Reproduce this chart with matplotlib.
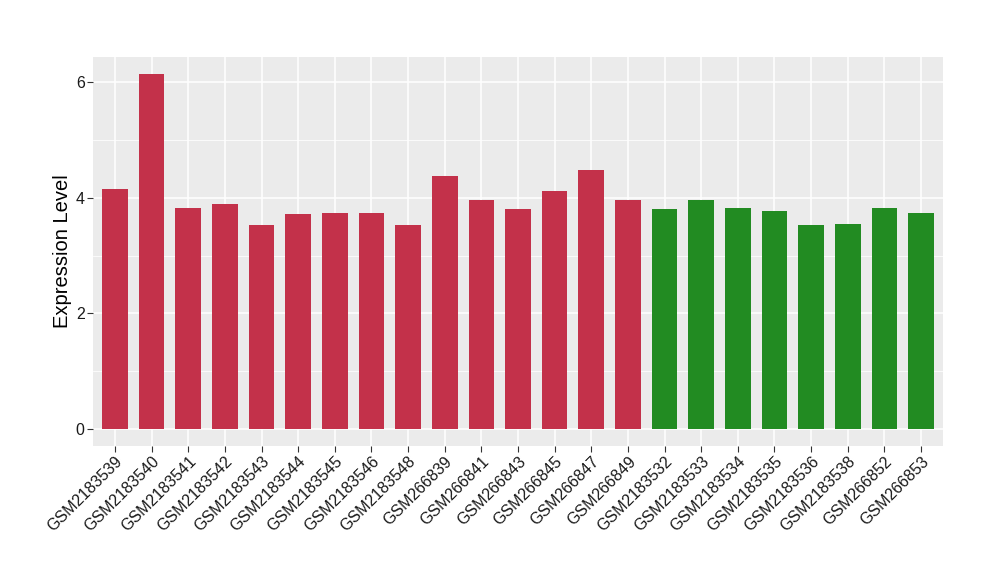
import matplotlib
matplotlib.use("Agg")
import matplotlib.pyplot as plt
from matplotlib.ticker import MultipleLocator

samples = ["GSM2183539", "GSM2183540", "GSM2183541", "GSM2183542", "GSM2183543",
           "GSM2183544", "GSM2183545", "GSM2183546", "GSM2183548", "GSM266839",
           "GSM266841", "GSM266843", "GSM266845", "GSM266847", "GSM266849",
           "GSM2183532", "GSM2183533", "GSM2183534", "GSM2183535", "GSM2183536",
           "GSM2183538", "GSM266852", "GSM266853"]
values = [4.15, 6.14, 3.82, 3.89, 3.53, 3.72, 3.74, 3.74, 3.53, 4.38,
          3.96, 3.80, 4.12, 4.48, 3.96,
          3.80, 3.96, 3.82, 3.77, 3.53, 3.54, 3.82, 3.74]
groups = ["A"] * 15 + ["B"] * 8
group_colors = {"A": "#C3314A", "B": "#228B22"}

plt.rcParams['font.family'] = ['Liberation Sans', 'DejaVu Sans']

fig = plt.figure(figsize=(10, 5.8), dpi=100)
ax = fig.add_axes([0.093, 0.2316, 0.850, 0.670])
ax.set_facecolor("#EBEBEB")

x = list(range(len(samples)))
ax.bar(x, values, width=0.7, color=[group_colors[g] for g in groups], zorder=3)

ax.set_xlim(-0.6, len(samples) - 1 + 0.6)
ax.set_ylim(-0.295, 6.44)
ax.yaxis.set_major_locator(MultipleLocator(2))
ax.yaxis.set_minor_locator(MultipleLocator(1))
ax.set_xticks(x)
ax.set_xticklabels(samples, rotation=45, ha="right", va="top", rotation_mode="anchor", fontsize=11.5, color="#1A1A1A")
ax.tick_params(axis="x", pad=2)
ax.tick_params(axis="y", labelsize=11.5, labelcolor="#1A1A1A", pad=2)
ax.tick_params(which="major", length=4, color="#333333", width=0.8)
ax.tick_params(which="minor", length=0)

ax.grid(which="major", color="white", linewidth=1.1, zorder=0)
ax.grid(which="minor", axis="y", color="white", linewidth=0.55, zorder=0)
ax.set_axisbelow(True)
for s in ax.spines.values():
    s.set_visible(False)

ax.set_ylabel("Expression Level", fontsize=14.5, color="black", labelpad=3)

fig.savefig("out.png", dpi=100)
